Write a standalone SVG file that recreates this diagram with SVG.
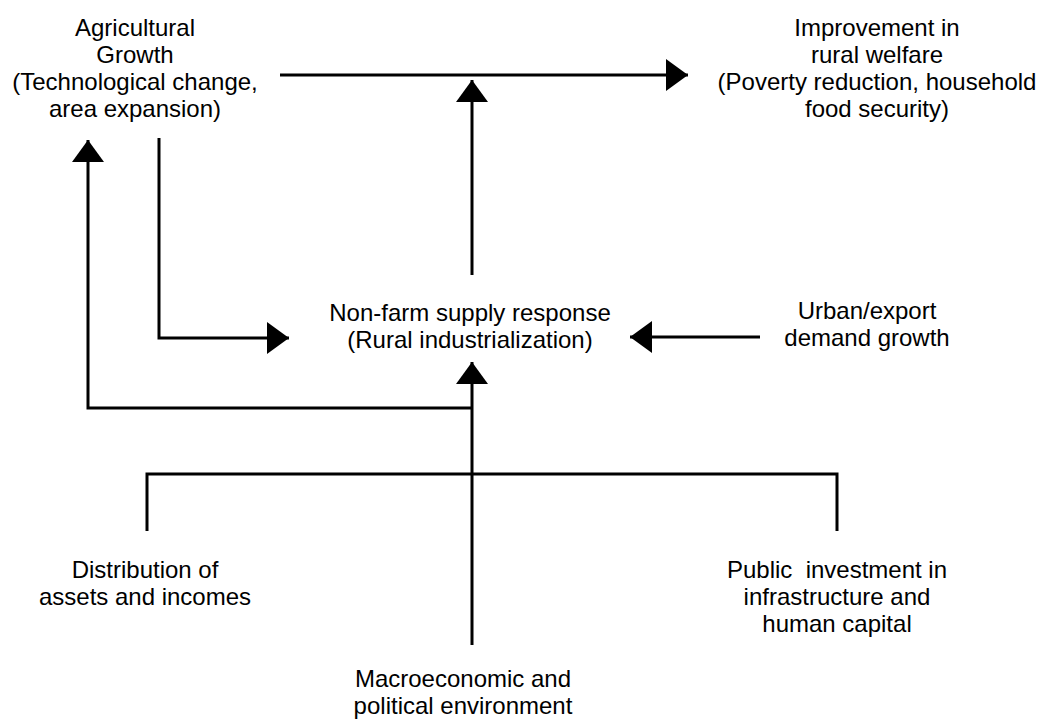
<svg xmlns="http://www.w3.org/2000/svg" width="1042" height="720" viewBox="0 0 1042 720">
<defs>
<style>
text{font-family:"Liberation Sans",Arial,sans-serif;font-size:24px;fill:#000;text-anchor:middle;white-space:pre}
.c{fill:none;stroke:#000;stroke-width:3}
</style>
<marker id="ah" markerUnits="userSpaceOnUse" markerWidth="22" markerHeight="32" refX="22" refY="16" orient="auto" viewBox="0 0 22 32">
<path d="M0,0 L22,16 L0,32 Z" fill="#000"/>
</marker>
</defs>
<rect width="1042" height="720" fill="#fff"/>
<g id="connectors">
<path class="c" d="M280,75 H688" marker-end="url(#ah)"/>
<path class="c" d="M472,275 V80" marker-end="url(#ah)"/>
<path class="c" d="M159,138 V338 H289" marker-end="url(#ah)"/>
<path class="c" d="M472,645 V362" marker-end="url(#ah)"/>
<path class="c" d="M472,408 H88 V140" marker-end="url(#ah)"/>
<path class="c" d="M760,337 H630" marker-end="url(#ah)"/>
<path class="c" d="M147,531 V474 H837 V531"/>
</g>
<g id="agri">
<text x="135" y="36">Agricultural</text>
<text x="135" y="63">Growth</text>
<text x="135" y="90">(Technological change,</text>
<text x="135" y="117">area expansion)</text>
</g>
<g id="welfare">
<text x="877" y="36">Improvement in</text>
<text x="877" y="63">rural welfare</text>
<text x="877" y="90">(Poverty reduction, household</text>
<text x="877" y="117">food security)</text>
</g>
<g id="nonfarm">
<text x="470" y="321">Non-farm supply response</text>
<text x="470" y="348">(Rural industrialization)</text>
</g>
<g id="urban">
<text x="867" y="319">Urban/export</text>
<text x="867" y="346">demand growth</text>
</g>
<g id="distribution">
<text x="145" y="578">Distribution of</text>
<text x="145" y="605">assets and incomes</text>
</g>
<g id="public">
<text x="837" y="578">Public  investment in</text>
<text x="837" y="605">infrastructure and</text>
<text x="837" y="632">human capital</text>
</g>
<g id="macro">
<text x="463" y="687">Macroeconomic and</text>
<text x="463" y="714">political environment</text>
</g>
</svg>
